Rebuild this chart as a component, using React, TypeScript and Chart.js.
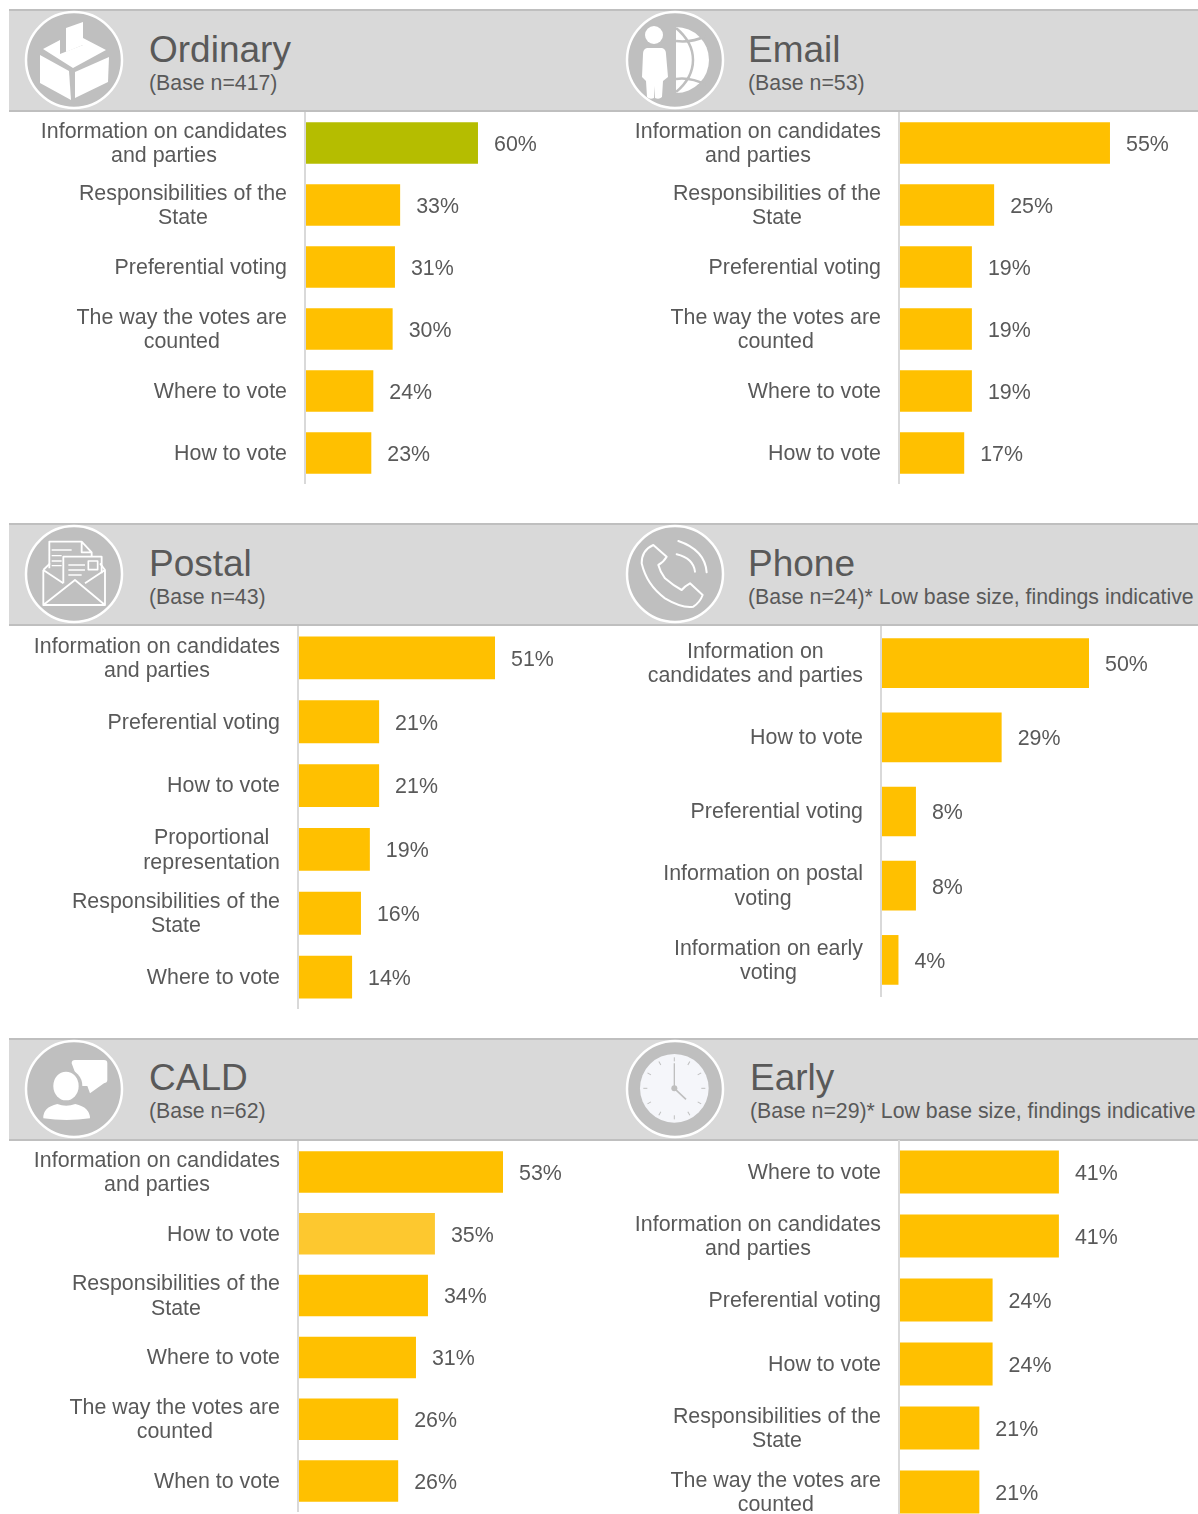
import React, { useEffect, useRef } from "react";
import { Chart, registerables } from "chart.js";

Chart.register(...registerables);

const ordinaryCategories = [
  ["Information on candidates", "and parties"],
  ["Responsibilities of the", "State"],
  ["Preferential voting"],
  ["The way the votes are", "counted"],
  ["Where to vote"],
  ["How to vote"],
];
const ordinaryValues = [60, 33, 31.2, 30.4, 23.7, 23];

const emailCategories = [
  ["Information on candidates", "and parties"],
  ["Responsibilities of the", "State"],
  ["Preferential voting"],
  ["The way the votes are", "counted"],
  ["Where to vote"],
  ["How to vote"],
];
const emailValues = [55, 24.8, 19, 19, 19, 17];

const postalCategories = [
  ["Information on candidates", "and parties"],
  ["Preferential voting"],
  ["How to vote"],
  ["Proportional", "representation"],
  ["Responsibilities of the", "State"],
  ["Where to vote"],
];
const postalValues = [51, 21, 21, 18.6, 16.3, 14];

const phoneCategories = [
  ["Information on", "candidates and parties"],
  ["How to vote"],
  ["Preferential voting"],
  ["Information on postal", "voting"],
  ["Information on early", "voting"],
];
const phoneValues = [50, 29, 8.4, 8.4, 4.2];

const caldCategories = [
  ["Information on candidates", "and parties"],
  ["How to vote"],
  ["Responsibilities of the", "State"],
  ["Where to vote"],
  ["The way the votes are", "counted"],
  ["When to vote"],
];
const caldValues = [53, 35.4, 33.6, 30.5, 25.9, 25.9];

const earlyCategories = [
  ["Where to vote"],
  ["Information on candidates", "and parties"],
  ["Preferential voting"],
  ["How to vote"],
  ["Responsibilities of the", "State"],
  ["The way the votes are", "counted"],
];
const earlyValues = [41, 41, 24, 24, 20.6, 20.6];

const FONT = '"Liberation Sans", Arial, sans-serif';
const TEXT = "#595959";
const AMBER = "#FFC000";

const labelPlugin = {
  id: "panelLabels",
  afterDatasetsDraw(chart: any) {
    const { ctx } = chart;
    const yScale = chart.scales.y;
    const meta = chart.getDatasetMeta(0);
    const labels: string[][] = chart.data.labels;
    const values: number[] = chart.data.datasets[0].data;
    const lh = 24.5;
    ctx.save();
    ctx.font = `21.4px ${FONT}`;
    ctx.fillStyle = TEXT;
    ctx.textBaseline = "middle";
    labels.forEach((lines, i) => {
      const cy = yScale.getPixelForTick(i);
      const widest = Math.max(...lines.map((l) => ctx.measureText(l).width));
      const right = chart.chartArea.left - 18;
      ctx.textAlign = "center";
      lines.forEach((l, j) => {
        ctx.fillText(l, right - widest / 2, cy + 1 + (j - (lines.length - 1) / 2) * lh);
      });
      ctx.textAlign = "left";
      ctx.fillText(`${Math.round(values[i])}%`, meta.data[i].x + 16, cy + 2);
    });
    ctx.restore();
  },
};

type PanelChart = {
  left: number; top: number; width: number; height: number; axis: number; perPct: number;
  categories: string[][]; values: number[]; highlight?: Record<number, string>;
};

function BarPanel({ left, top, width, height, axis, perPct, categories, values, highlight }: PanelChart) {
  const ref = useRef<HTMLCanvasElement>(null);
  useEffect(() => {
    const chart = new Chart(ref.current as HTMLCanvasElement, {
      type: "bar",
      data: {
        labels: categories as any,
        datasets: [{
          data: values,
          backgroundColor: values.map((_, i) => (highlight && highlight[i]) || AMBER),
          barPercentage: 0.67,
          categoryPercentage: 1,
        }],
      },
      options: {
        indexAxis: "y",
        animation: false,
        responsive: false,
        layout: { padding: 0 },
        plugins: { legend: { display: false }, tooltip: { enabled: false }, title: { display: false } },
        scales: {
          x: { display: false, min: 0, max: (width - axis) / perPct },
          y: {
            afterFit(s: any) { s.width = axis; },
            grid: { display: false },
            ticks: { display: false },
            border: { display: true, color: "#D9D9D9", width: 2, z: 1 },
          },
        },
      } as any,
      plugins: [labelPlugin],
    });
    return () => chart.destroy();
  }, []);
  return (
    <canvas ref={ref} width={width} height={height}
      style={{ position: "absolute", left, top, width, height, display: "block" }} />
  );
}

const W = "#FFFFFF";
const G = "#BFBFBF";

function IconOrdinary() {
  return (
    <g fill={W}>
      <polygon points="42,18 59,12 59,35 42,42" />
      <polygon points="19,39 36,30 36,44 59,35 59,28 82,40 49,58" />
      <polygon points="16,45 45,61 47,90 16,73" />
      <polygon points="51,62 85,47 84,72 51,88" />
    </g>
  );
}

function IconEmail() {
  return (
    <g>
      <circle cx="29" cy="25" r="9" fill={W} />
      <path d="M22,38 H37 Q41,39 41,44 L43,67 L38,71 L37,87 Q34,90 30,88 L29.5,76 L29,88 Q25,90 22,87 L21,71 L17,67 L18,44 Q18,39 22,38 Z" fill={W} />
      <path d="M51,17 A33,33 0 0 1 51,83 Z" fill={W} />
      <g fill="none" stroke={G} strokeWidth="2.5">
        <path d="M51,18 Q68,32 68,50 Q68,68 51,82" />
        <path d="M51,31 Q66,33 81,26" />
        <path d="M51,69 Q66,67 81,75" />
      </g>
    </g>
  );
}

function IconPostal() {
  return (
    <g transform="translate(-24,-9) scale(0.3333)" fill="none" stroke={W} strokeWidth="5.5" strokeLinejoin="round">
      <path d="M130,165 L150,145 M300,145 L315,165 L315,270 L130,270 L130,165 M130,270 L225,195 L315,270 M130,165 L190,205 M315,165 L255,205" />
      <path d="M148,160 L148,80 L245,80 L275,112 L275,125 M245,80 L245,112 L275,112" />
      <path d="M190,205 L190,125 L305,125 L305,175" />
      <path d="M155,105 H215 M155,122 H185 M155,138 H185 M155,152 H185 M205,150 H255 M205,165 H255 M205,180 H245" strokeWidth="4" />
      <rect x="265" y="138" width="28" height="26" strokeWidth="5" />
    </g>
  );
}

function IconPhone() {
  return (
    <g transform="translate(-15,-9) scale(0.3333)" fill="none" stroke={W} strokeWidth="6" strokeLinejoin="round" strokeLinecap="round">
      <path d="M130,90 Q95,105 95,145 Q110,210 165,250 Q215,280 250,275 Q270,262 278,240 L240,205 Q225,213 215,225 Q190,212 165,190 Q150,170 145,150 Q160,142 170,125 Z" />
      <path d="M205,78 Q285,105 290,172" />
      <path d="M200,118 Q250,130 255,170" />
    </g>
  );
}

function IconCald() {
  return (
    <g transform="translate(-24,-9) scale(0.3333)">
      <path d="M225,90 H312 Q322,90 322,100 V150 Q322,158 312,160 L270,190 L262,168 L240,168 L215,100 Q215,90 225,90 Z" fill={W} />
      <ellipse cx="200" cy="168" rx="47" ry="50" fill={G} />
      <ellipse cx="198" cy="168" rx="38" ry="43" fill={W} />
      <path d="M130,265 Q128,232 172,222 Q198,232 226,222 Q270,232 270,265 Q200,275 130,265 Z" fill={W} />
    </g>
  );
}

function IconEarly() {
  const ticks = [0, 30, 60, 90, 120, 150, 180, 210, 240, 270, 300, 330];
  return (
    <g transform="translate(-15,-9) scale(0.3333)">
      <circle cx="193" cy="175" r="103" fill="#F5F6FA" />
      {ticks.map((a) => (
        <line key={a} x1="193" y1="82" x2="193" y2="94" stroke={G} strokeWidth="3"
          transform={`rotate(${a} 193 175)`} />
      ))}
      <line x1="193" y1="100" x2="193" y2="175" stroke={G} strokeWidth="4" />
      <line x1="193" y1="175" x2="228" y2="208" stroke={G} strokeWidth="5" />
      <circle cx="193" cy="175" r="9" fill={G} />
    </g>
  );
}

function Icon({ x, y, children }: { x: number; y: number; children: any }) {
  return (
    <svg width={100} height={100} viewBox="0 0 100 100"
      style={{ position: "absolute", left: x, top: y, display: "block" }}>
      <circle cx="50" cy="50" r="48" fill={G} stroke={W} strokeWidth="2.5" />
      {children}
    </svg>
  );
}

function Band({ top }: { top: number }) {
  return (
    <div style={{
      position: "absolute", left: 9, top, width: 1189, height: 103, boxSizing: "border-box",
      background: "#D9D9D9", borderTop: "2px solid #BFBFBF", borderBottom: "2px solid #BFBFBF",
    }} />
  );
}

function Heading({ x, y, title, sub }: { x: number; y: number; title: string; sub: string }) {
  const base: any = { position: "absolute", left: x, color: TEXT, fontFamily: FONT, whiteSpace: "nowrap" };
  return (
    <>
      <div style={{ ...base, top: y - 23, fontSize: 37, lineHeight: "48px" }}>{title}</div>
      <div style={{ ...base, top: y + 20, fontSize: 21.3, lineHeight: "28px" }}>{sub}</div>
    </>
  );
}

export default function App() {
  return (
    <div style={{ position: "absolute", left: 0, top: 0, width: 1198, height: 1514, overflow: "hidden", background: "#fff" }}>
      <Band top={9} />
      <Band top={523} />
      <Band top={1038} />

      <Icon x={24} y={10}><IconOrdinary /></Icon>
      <Icon x={625} y={10}><IconEmail /></Icon>
      <Icon x={24} y={524}><IconPostal /></Icon>
      <Icon x={625} y={524}><IconPhone /></Icon>
      <Icon x={24} y={1039}><IconCald /></Icon>
      <Icon x={625} y={1039}><IconEarly /></Icon>

      <Heading x={149} y={49} title="Ordinary" sub="(Base n=417)" />
      <Heading x={748} y={49} title="Email" sub="(Base n=53)" />
      <Heading x={149} y={563} title="Postal" sub="(Base n=43)" />
      <Heading x={748} y={563} title="Phone" sub="(Base n=24)* Low base size, findings indicative" />
      <Heading x={149} y={1077} title="CALD" sub="(Base n=62)" />
      <Heading x={750} y={1077} title="Early" sub="(Base n=29)* Low base size, findings indicative" />

      <BarPanel left={8} top={112} width={590} height={372} axis={297} perPct={2.883}
        categories={ordinaryCategories} values={ordinaryValues} highlight={{ 0: "#B5BD00" }} />
      <BarPanel left={600} top={112} width={598} height={372} axis={299} perPct={3.836}
        categories={emailCategories} values={emailValues} />
      <BarPanel left={8} top={626} width={590} height={383} axis={290} perPct={3.863}
        categories={postalCategories} values={postalValues} />
      <BarPanel left={600} top={626} width={598} height={371} axis={281} perPct={4.16}
        categories={phoneCategories} values={phoneValues} />
      <BarPanel left={8} top={1141} width={590} height={371} axis={290} perPct={3.868}
        categories={caldCategories} values={caldValues} highlight={{ 1: "#FDC82F" }} />
      <BarPanel left={600} top={1140} width={598} height={384} axis={299} perPct={3.9}
        categories={earlyCategories} values={earlyValues} />
    </div>
  );
}
